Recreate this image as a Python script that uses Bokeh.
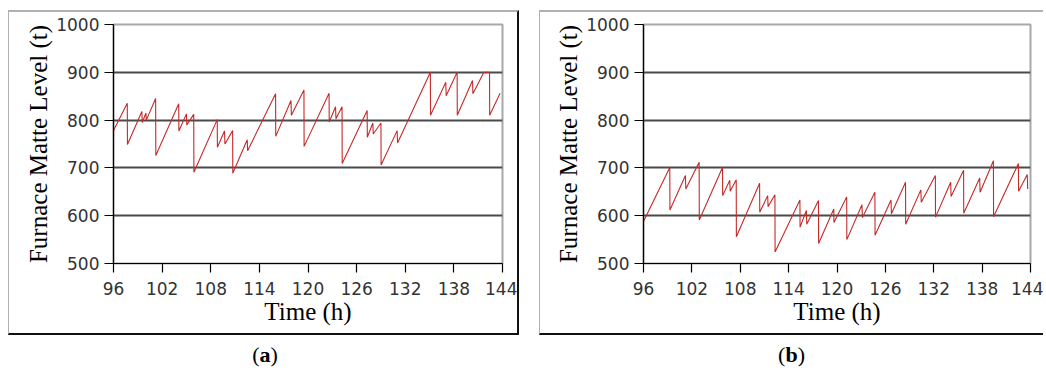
from bokeh.plotting import figure
from bokeh.layouts import row, column
from bokeh.models import Div, Spacer, FixedTicker, Range1d
from bokeh.embed import file_html
from bokeh.resources import INLINE

# ---------------- data ----------------
x_ticks = [96, 102, 108, 114, 120, 126, 132, 138, 144]
y_ticks = [500, 600, 700, 800, 900, 1000]
grid_levels = [600, 700, 800, 900]

time_a = [96.0, 97.7, 97.72, 99.5, 99.55, 100.0, 100.05, 101.2, 101.22, 104.05,
          104.07, 105.0, 105.05, 105.9, 105.92, 108.8, 108.82, 109.7, 109.75, 110.7,
          110.72, 112.5, 112.55, 116.0, 116.02, 117.9, 117.95, 119.5, 119.52, 122.6,
          122.62, 123.4, 123.45, 124.2, 124.22, 127.3, 127.32, 128.0, 128.05, 129.0,
          129.02, 131.0, 131.05, 135.1, 135.12, 137.0, 137.05, 138.4, 138.42, 140.3,
          140.35, 141.7, 142.4, 142.42, 143.7]
level_a = [778, 835, 749, 818, 795, 815, 800, 845, 726, 834,
           777, 813, 790, 812, 691, 801, 743, 777, 750, 778,
           689, 759, 736, 855, 766, 841, 810, 863, 745, 856,
           796, 828, 803, 828, 709, 820, 764, 794, 771, 794,
           706, 778, 752, 900, 810, 879, 851, 900, 810, 883,
           855, 900, 900, 810, 856]

time_b = [96.0, 99.26, 99.28, 101.2, 101.25, 102.9, 102.92, 105.8, 105.82, 106.7,
          106.75, 107.5, 107.52, 110.4, 110.42, 111.4, 111.45, 112.3, 112.32, 115.4,
          115.42, 116.2, 116.25, 117.7, 117.72, 119.6, 119.62, 121.2, 121.22, 123.1,
          123.15, 124.7, 124.72, 126.7, 126.75, 128.5, 128.52, 130.4, 130.45, 132.2,
          132.22, 134.1, 134.15, 135.7, 135.72, 137.7, 137.75, 139.4, 139.42, 142.5,
          142.52, 143.6, 143.65]
level_b = [588, 701, 612, 684, 656, 712, 591, 701, 642, 674,
           651, 675, 556, 668, 607, 642, 619, 644, 524, 633,
           576, 611, 582, 632, 542, 614, 586, 639, 550, 623,
           596, 649, 559, 633, 604, 670, 582, 654, 628, 684,
           597, 670, 640, 695, 605, 679, 649, 715, 598, 709,
           651, 686, 656]

panel_labels = ["a", "b"]
x_title = "Time (h)"
y_title = "Furnace Matte Level (t)"


def make_panel(t, v, width, mbl, mbr, css):
    p = figure(width=width, height=325,
               x_range=Range1d(96, 144), y_range=Range1d(500, 1000),
               output_backend="svg", toolbar_location=None,
               min_border_left=mbl, min_border_right=mbr,
               min_border_top=12, min_border_bottom=74,
               x_axis_label=x_title, y_axis_label=y_title)
    p.line(t, v, line_color="#c42a2a", line_width=1.1)
    p.xgrid.visible = False
    p.ygrid.ticker = FixedTicker(ticks=grid_levels)
    p.ygrid.grid_line_color = "#4a4a4a"
    p.ygrid.grid_line_width = 2
    p.xaxis.ticker = FixedTicker(ticks=x_ticks)
    p.yaxis.ticker = FixedTicker(ticks=y_ticks)
    for ax in (p.xaxis, p.yaxis):
        ax.axis_line_color = "black"
        ax.axis_line_width = 1.2
        ax.major_tick_line_color = "black"
        ax.major_tick_line_width = 1.2
        ax.major_tick_out = 9
        ax.major_tick_in = 0
        ax.minor_tick_line_color = None
        ax.major_label_text_font = "DejaVu Sans"
        ax.major_label_text_font_size = "17px"
        ax.major_label_text_color = "#333333"
        ax.axis_label_text_font = "Liberation Serif"
        ax.axis_label_text_font_size = "25px"
        ax.axis_label_text_font_style = "normal"
        ax.axis_label_text_color = "black"
    p.xaxis.major_label_standoff = 9
    p.yaxis.major_label_standoff = 5
    p.xaxis.axis_label_standoff = 0
    p.yaxis.axis_label_standoff = 1
    p.outline_line_color = "#a8a8a8"
    p.outline_line_width = 2
    p.background_fill_color = "white"
    p.border_fill_color = "white"
    p.styles = css
    return p


css_a = {"border-left": "1px solid #b0b0b0", "border-top": "2px solid #b0b0b0",
         "border-right": "2px solid #111111", "border-bottom": "2px solid #111111"}
css_b = {"border-left": "1px solid #b0b0b0", "border-top": "2px solid #b0b0b0",
         "border-bottom": "2px solid #111111"}

pa = make_panel(time_a, level_a, 511, 104, 18, css_a)
pb = make_panel(time_b, level_b, 504, 103, 14, css_b)


def caption(letter, w):
    return Div(text="(<b>%s</b>)" % letter, width=w, height=24,
               margin=(7, 0, 0, 0),
               styles={"font-family": "Liberation Serif", "font-size": "22px",
                       "text-align": "center", "line-height": "26px",
                       "color": "black"})


col_a = column(pa, caption(panel_labels[0], 514))
col_b = column(pb, caption(panel_labels[1], 505))
layout = column(Spacer(height=10),
                row(Spacer(width=8), col_a, Spacer(width=17), col_b))

open("out.html", "w").write(file_html(layout, INLINE))
